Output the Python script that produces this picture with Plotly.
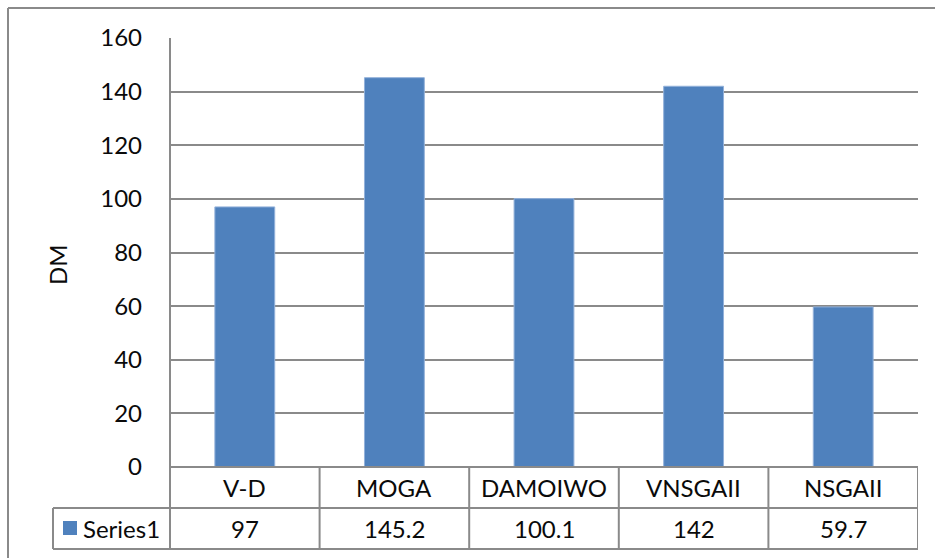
import plotly.graph_objects as go

# Data
categories = ["V-D", "MOGA", "DAMOIWO", "VNSGAII", "NSGAII"]
dm_values = [97, 145.2, 100.1, 142, 59.7]
series_name = "Series1"
y_ticks = [0, 20, 40, 60, 80, 100, 120, 140, 160]
y_title = "DM"

# Page geometry (pixels)
W, H = 935, 558
PL, PR, PT, PB = 170, 918, 38, 467   # plot area edges
ROW1, ROW2 = 508, 549                # data table row bottoms
KEY_LEFT = 53                        # left edge of the series label cell
FRAME = 8                            # outer chart frame

FONT = "Lato, Liberation Sans, Arial, sans-serif"
FS = 24
TXT = "#0a0a0a"
GRID = "#8a8a8a"
BAR = "#4f81bd"


def px(x):
    return (x - PL) / (PR - PL)


def py(y):
    return (PB - y) / (PB - PT)


fig = go.Figure()
fig.add_trace(go.Bar(
    x=list(range(len(categories))),
    y=dm_values,
    name=series_name,
    width=0.4,
    marker=dict(color=BAR, line=dict(color="#93b1da", width=1)),
    showlegend=False,
))

shapes = []
line = dict(color=GRID, width=2)

# outer chart frame (top and left)
shapes.append(dict(type="line", xref="paper", yref="paper",
                   x0=px(FRAME), x1=px(W + 5), y0=py(FRAME), y1=py(FRAME), line=line))
shapes.append(dict(type="line", xref="paper", yref="paper",
                   x0=px(FRAME), x1=px(FRAME), y0=py(FRAME), y1=py(H + 5), line=line))

# value axis line continuing down through the table
shapes.append(dict(type="line", xref="paper", yref="paper",
                   x0=0, x1=0, y0=1, y1=py(ROW2), line=line))

# table horizontal rules
shapes.append(dict(type="line", xref="paper", yref="paper",
                   x0=0, x1=1, y0=0, y1=0, line=line))
for yy in (ROW1, ROW2):
    shapes.append(dict(type="line", xref="paper", yref="paper",
                       x0=px(KEY_LEFT), x1=1, y0=py(yy), y1=py(yy), line=line))
shapes.append(dict(type="line", xref="paper", yref="paper",
                   x0=px(KEY_LEFT), x1=px(KEY_LEFT), y0=py(ROW1), y1=py(ROW2), line=line))

# table column dividers at category boundaries
for i in range(1, len(categories) + 1):
    shapes.append(dict(type="line", xref="x", yref="paper",
                       x0=i - 0.5, x1=i - 0.5, y0=0, y1=py(ROW2), line=line))

# legend key square
shapes.append(dict(type="rect", xref="paper", yref="paper",
                   x0=px(63), x1=px(77), y0=py(521), y1=py(535),
                   fillcolor=BAR, line=dict(width=0)))

font = dict(size=FS, color=TXT, family=FONT)
annotations = []
row1_mid = py((PB + ROW1) / 2)
row2_mid = py((ROW1 + ROW2) / 2)
for i, (cat, val) in enumerate(zip(categories, dm_values)):
    annotations.append(dict(x=i, y=row1_mid, xref="x", yref="paper", text=cat,
                            showarrow=False, font=font,
                            xanchor="center", yanchor="middle"))
    annotations.append(dict(x=i, y=row2_mid, xref="x", yref="paper", text=f"{val:g}",
                            showarrow=False, font=font,
                            xanchor="center", yanchor="middle"))
annotations.append(dict(x=px(81), y=row2_mid, xref="paper", yref="paper", text=series_name,
                        showarrow=False, font=font,
                        xanchor="left", yanchor="middle"))
annotations.append(dict(x=px(57), y=py(265), xref="paper", yref="paper", text=y_title,
                        textangle=-90, showarrow=False, font=font,
                        xanchor="center", yanchor="middle"))

fig.update_layout(
    width=W, height=H,
    margin=dict(l=PL, r=W - PR, t=PT, b=H - PB, pad=0),
    paper_bgcolor="white", plot_bgcolor="white",
    shapes=shapes,
    annotations=annotations,
    font=font,
    xaxis=dict(range=[-0.5, len(categories) - 0.5], showticklabels=False,
               showgrid=False, zeroline=False, showline=False, ticks=""),
    yaxis=dict(range=[0, 160], tickvals=y_ticks, showgrid=True, gridcolor=GRID,
               gridwidth=2, zeroline=False, showline=False, ticks="",
               ticklabelstandoff=27, tickfont=font),
)

fig.write_html("out.html")
